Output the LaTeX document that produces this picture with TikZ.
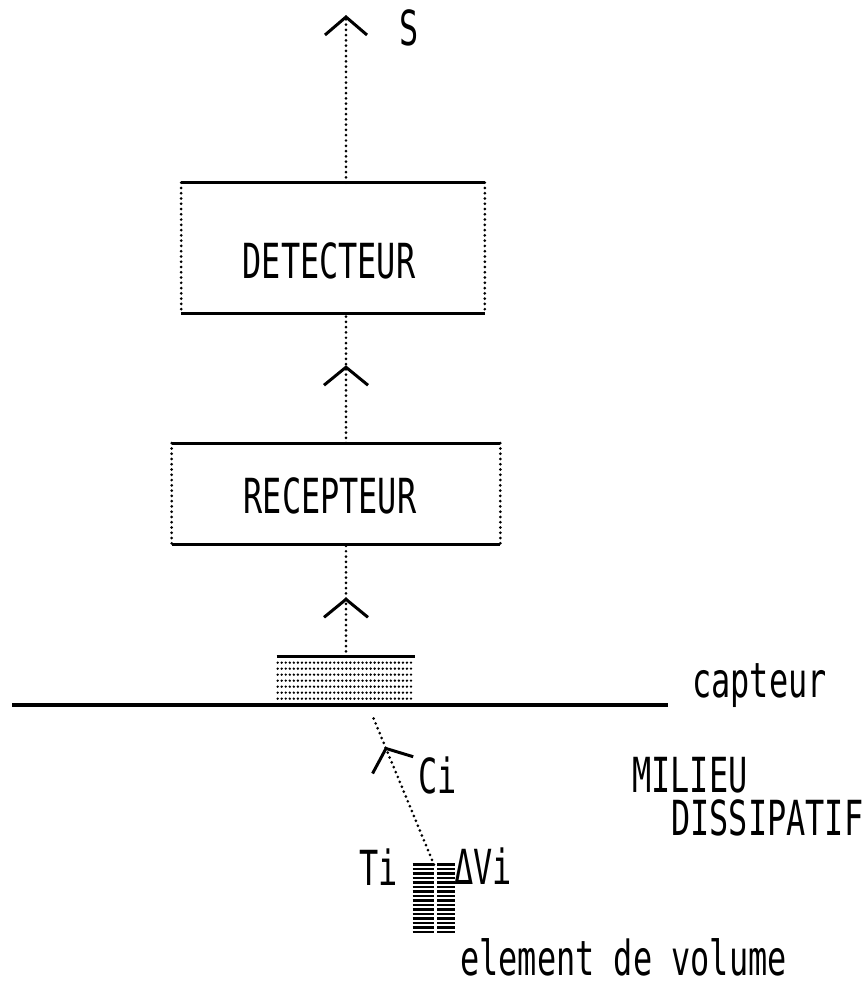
\documentclass[tikz,border=0pt]{standalone}
\usepackage{fontspec}
\usetikzlibrary{arrows.meta,positioning,calc,decorations.markings}
\newfontfamily\plotfont[FakeStretch=0.66]{DejaVu Sans Mono}
\tikzset{
  blok/.style={inner sep=0pt},
  lab/.style={inner sep=0pt, font=\plotfont\fontsize{27.5}{30}\selectfont},
  solidline/.style={line width=1.8pt},
  dotline/.style={line width=1.7pt, line cap=round, dash pattern=on 0pt off 3pt},
  chev/.style={-{Straight Barb[length=0.36cm,width=0.84cm,line width=1.7pt]}},
  midchev/.style={postaction={decorate}, decoration={markings,
      mark=at position #1 with {\arrow{Straight Barb[length=0.36cm,width=0.88cm,line width=1.7pt]}}}},
}
\begin{document}
\begin{tikzpicture}[x=0.02cm, y=-0.02cm]
    \useasboundingbox (0,0) rectangle (868,985);
    % blocks
    \node[blok, minimum width=6.06cm, minimum height=2.6cm] (det) at (333,248) {};
    \node[blok, minimum width=6.56cm, minimum height=2.02cm] (rec) at (336,494) {};
    \node[lab] (dettxt) at (329,261) {DETECTEUR};
    \node[lab] (rectxt) at (330,496) {RECEPTEUR};
    \node[blok, minimum width=2.76cm, minimum height=0.96cm] (cap) at (346,681) {};
    \node[blok, minimum width=0.84cm, minimum height=1.36cm] (vol) at (434,899) {};
    \coordinate (axis) at (346,0);
    \coordinate (sout) at (346,15);
    \coordinate (gl) at (12,705);
    \coordinate (gr) at (668,705);
    \coordinate (ci0) at (373,717);
    % box edges: full line top and bottom, dots on the sides
    \foreach \b in {det,rec} {
      \draw[solidline] (\b.north west) -- (\b.north east);
      \draw[solidline] (\b.south west) -- (\b.south east);
      \draw[dotline] (\b.north west) -- (\b.south west);
      \draw[dotline] (\b.north east) -- (\b.south east);
    }
    % capteur
    \draw[solidline] (cap.north west) -- (cap.north east);
    \foreach \k in {1,...,7}
      \draw[dotline, line width=1.5pt, dash pattern=on 0pt off 2.3pt]
        ($(cap.north west)+(1,\k*6)$) -- ($(cap.north east)+(-1,\k*6)$);
    \draw[solidline] (gl) -- (gr);
    % element de volume
    \foreach \r in {0,...,15} {
      \draw[line width=1.5pt] ($(vol.north west)+(0,\r*4.5)$) -- ($(vol.north)+(0,\r*4.5)$);
      \draw[line width=1.5pt] ($(vol.north)+(3,\r*4.5)$) -- ($(vol.north east)+(0,\r*4.5)$);
    }
    % connectors
    \draw[dotline, chev] (det.north -| axis) -- (sout);
    \draw[dotline, midchev=0.6] (rec.north -| axis) -- (det.south -| axis);
    \draw[dotline, midchev=0.53] (cap.north) -- (rec.south -| axis);
    \draw[dotline, midchev=0.8] (vol.north) -- (ci0);
    % labels
    \node[lab, anchor=base west] (s) at (399,45) {S};
    \node[lab, anchor=base west] (captlab) at (692,697) {capteur};
    \node[lab, anchor=base west] (milieu) at (632,792) {MILIEU};
    \node[lab, anchor=base west] (dissip) at (671,835) {DISSIPATIF};
    \node[lab, anchor=base west] (ci) at (418,793) {Ci};
    \node[lab, anchor=base east] (ti) at (398,885) {Ti};
    \node[lab, anchor=base west] (dvi) at (454,884) {ΔVi};
    \node[lab, anchor=base west] (ellab) at (460,975) {element de volume};
\end{tikzpicture}
\end{document}
